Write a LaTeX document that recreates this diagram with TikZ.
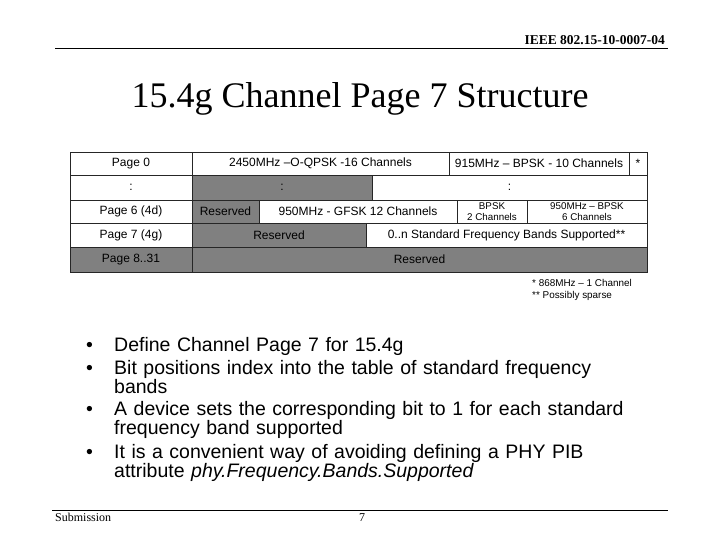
\documentclass[tikz,border=0pt]{standalone}
\usepackage{fontspec}
\setmainfont{Liberation Serif}
\setsansfont{Liberation Sans}
\definecolor{cellgray}{HTML}{808080}
\begin{document}
\begin{tikzpicture}[x=1pt,y=-1pt,
  cell/.style={draw=black!85, line width=0.7pt, anchor=north west, inner sep=0pt, outer sep=0pt, font=\sffamily\fontsize{12}{13}\selectfont, align=center},
  gcell/.style={cell, fill=cellgray},
  wcell/.style={cell, fill=white},
  smallcell/.style={wcell, font=\sffamily\fontsize{9.8}{10.5}\selectfont},
  bullet/.style={anchor=north west, inner sep=0pt, font=\sffamily\fontsize{19.5}{18}\selectfont, align=left, text width=580pt}
]
\useasboundingbox (0,0) rectangle (720,540);
% header
\draw[line width=0.8pt] (55,48) coordinate (hl) -- (668,48) coordinate (hr);
\node[anchor=base east, inner sep=0pt, font=\bfseries\fontsize{13.5}{14}\selectfont] (hdr) at (665,45) {IEEE 802.15-10-0007-04};
% title
\node[inner sep=0pt, font=\fontsize{36}{38}\selectfont] (title) at (360,99) {15.4g Channel Page 7 Structure};
% table row 1
\node[wcell, minimum width=122, minimum height=23] (r1a) at (70,152) {Page 0};
\node[wcell, minimum width=257, minimum height=23] (r1b) at (192,152) {2450MHz --O-QPSK -16 Channels};
\node[wcell, minimum width=180, minimum height=23] (r1c) at (449,152) {915MHz -- BPSK - 10 Channels};
\node[wcell, minimum width=18, minimum height=23] (r1d) at (629,152) {*};
% row 2
\node[wcell, minimum width=122, minimum height=25] (r2a) at (70,175) {:};
\node[gcell, minimum width=180, minimum height=25] (r2b) at (192,175) {:};
\node[wcell, minimum width=275, minimum height=25] (r2c) at (372,175) {:};
% row 3
\node[wcell, minimum width=122, minimum height=23] (r3a) at (70,200) {Page 6 (4d)};
\node[gcell, minimum width=67, minimum height=23] (r3b) at (192,200) {Reserved};
\node[wcell, minimum width=198, minimum height=23] (r3c) at (259,200) {950MHz - GFSK 12 Channels};
\node[smallcell, minimum width=70, minimum height=23] (r3d) at (457,200) {BPSK\\2 Channels};
\node[smallcell, minimum width=120, minimum height=23] (r3e) at (527,200) {950MHz -- BPSK\\6 Channels};
% row 4
\node[wcell, minimum width=122, minimum height=24] (r4a) at (70,223) {Page 7 (4g)};
\node[gcell, minimum width=174, minimum height=24] (r4b) at (192,223) {Reserved};
\node[wcell, minimum width=281, minimum height=24] (r4c) at (366,223) {0..n Standard Frequency Bands Supported**};
% row 5
\node[gcell, minimum width=122, minimum height=25] (r5a) at (70,247) {Page 8..31};
\node[gcell, minimum width=455, minimum height=25] (r5b) at (192,247) {Reserved};
% notes
\node[anchor=north west, inner sep=0pt, align=left, font=\sffamily\fontsize{9.9}{12}\selectfont] (notes) at (532,279) {* 868MHz -- 1 Channel\\** Possibly sparse};
% bullets
\node[bullet] (b1) at (86,337) {\makebox[28pt][l]{•}Define Channel Page 7 for 15.4g};
\node[bullet] (b2) at (86,360) {\makebox[28pt][l]{•}Bit positions index into the table of standard frequency\\\hspace*{28pt}bands};
\node[bullet] (b3) at (86,401) {\makebox[28pt][l]{•}A device sets the corresponding bit to 1 for each standard\\\hspace*{28pt}frequency band supported};
\node[bullet] (b4) at (86,444) {\makebox[28pt][l]{•}It is a convenient way of avoiding defining a PHY PIB\\\hspace*{28pt}attribute \textit{phy.Frequency.Bands.Supported}};
% footer
\draw[line width=0.8pt] (52,510) coordinate (fl) -- (668,510) coordinate (fr);
\node[anchor=base west, inner sep=0pt, font=\fontsize{12}{13}\selectfont] (sub) at (55,521) {Submission};
\node[anchor=base west, inner sep=0pt, font=\fontsize{12}{13}\selectfont] (pg) at (359,521) {7};
\end{tikzpicture}
\end{document}
